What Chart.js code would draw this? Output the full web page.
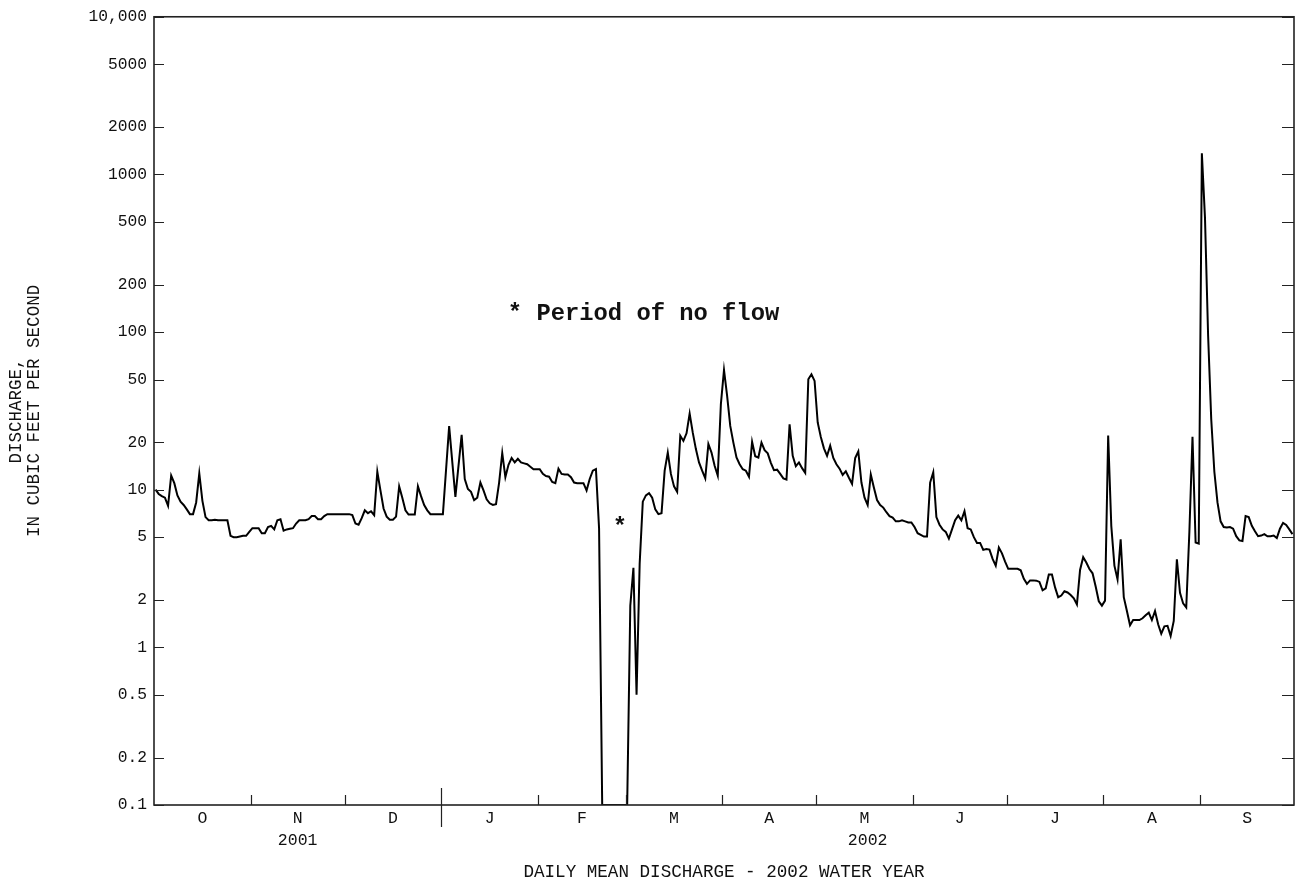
<!DOCTYPE html>
<html><head><meta charset="utf-8">
<script src="https://cdn.jsdelivr.net/npm/chart.js@4.4.1/dist/chart.umd.min.js"></script>
<style>html,body{margin:0;padding:0;background:#fff;} #wrap{width:1296px;height:884px;position:relative;}</style>
</head><body><div id="wrap"><canvas id="c" width="1296" height="884"></canvas></div>
<script>
// Daily mean discharge, Oct 1 2001 - Sep 30 2002 (0 = no flow)
const DISCHARGE = [
10.0, 9.4, 9.1, 8.9, 7.9, 12.3, 11.0, 9.2, 8.4, 8.0,
7.5, 7.0, 7.0, 8.3, 12.7, 8.5, 6.7, 6.4, 6.4, 6.45,
6.4, 6.4, 6.4, 6.4, 5.1, 5.0, 5.0, 5.05, 5.1, 5.1,
5.4, 5.7, 5.7, 5.7, 5.3, 5.3, 5.8, 5.9, 5.6, 6.4,
6.5, 5.5, 5.6, 5.65, 5.7, 6.1, 6.4, 6.4, 6.4, 6.5,
6.8, 6.8, 6.5, 6.5, 6.8, 7.0, 7.0, 7.0, 7.0, 7.0,
7.0, 7.0, 7.0, 6.9, 6.1, 6.0, 6.6, 7.4, 7.1, 7.3,
6.9, 13.0, 9.9, 7.6, 6.75, 6.45, 6.45, 6.75, 10.5, 8.9,
7.4, 6.95, 6.95, 6.95, 10.5, 9.1, 8.0, 7.4, 7.0, 7.0,
7.0, 7.0, 7.0, 13.3, 25.3, 15.0, 9.0, 14.2, 22.3, 11.7,
10.1, 9.7, 8.6, 8.9, 11.1, 9.9, 8.7, 8.2, 8.0, 8.1,
11.1, 17.1, 12.0, 14.4, 15.9, 14.9, 15.7, 14.9, 14.7, 14.5,
14.0, 13.5, 13.5, 13.5, 12.6, 12.2, 12.1, 11.2, 11.0, 13.6,
12.6, 12.5, 12.5, 12.0, 11.1, 11.0, 11.0, 11.0, 9.9, 11.7,
13.2, 13.5, 5.7, 0, 0, 0, 0, 0, 0, 0,
0, 0, 1.84, 3.2, 0.5, 3.4, 8.4, 9.2, 9.5, 8.9,
7.5, 7.0, 7.1, 13.2, 17.2, 12.6, 10.5, 9.7, 22.0, 20.4,
22.8, 30.4, 23.0, 18.1, 14.9, 13.2, 11.8, 19.5, 17.2, 14.2,
12.3, 34.9, 57.5, 39.4, 25.4, 19.9, 16.0, 14.5, 13.5, 13.2,
12.1, 20.1, 16.3, 16.0, 19.9, 17.8, 17.0, 14.8, 13.3, 13.4,
12.6, 11.8, 11.6, 26.0, 16.4, 14.1, 14.9, 13.7, 12.8, 50.2,
54.0, 49.0, 26.7, 21.6, 18.3, 16.4, 19.0, 15.9, 14.5, 13.6,
12.4, 13.1, 11.9, 10.9, 15.9, 17.5, 11.1, 8.9, 8.0, 12.5,
10.3, 8.6, 8.0, 7.7, 7.2, 6.8, 6.65, 6.3, 6.3, 6.4,
6.3, 6.2, 6.2, 5.8, 5.3, 5.17, 5.04, 5.04, 11.1, 12.9,
6.7, 6.0, 5.6, 5.4, 4.9, 5.6, 6.4, 6.85, 6.4, 7.3,
5.7, 5.6, 5.0, 4.6, 4.6, 4.15, 4.2, 4.17, 3.64, 3.3,
4.3, 3.95, 3.5, 3.15, 3.15, 3.15, 3.15, 3.08, 2.72, 2.53,
2.66, 2.66, 2.65, 2.6, 2.3, 2.37, 2.9, 2.9, 2.4, 2.08,
2.13, 2.27, 2.23, 2.15, 2.05, 1.87, 3.1, 3.73, 3.45, 3.14,
2.95, 2.43, 1.96, 1.84, 1.98, 22.1, 5.9, 3.3, 2.7, 4.85,
2.08, 1.70, 1.38, 1.49, 1.49, 1.49, 1.53, 1.6, 1.66, 1.49,
1.70, 1.4, 1.22, 1.36, 1.37, 1.18, 1.47, 3.62, 2.22, 1.9,
1.79, 5.39, 21.7, 4.63, 4.55, 1360, 530, 95, 28, 13,
8.3, 6.3, 5.8, 5.75, 5.8, 5.66, 5.07, 4.77, 4.73, 6.81,
6.7, 5.91, 5.45, 5.07, 5.12, 5.23, 5.07, 5.07, 5.12, 4.93,
5.66, 6.16, 5.98, 5.6, 5.23
];
const MONTH_LABELS = ['O','N','D','J','F','M','A','M','J','J','A','S'];
const MONTH_STARTS = [0,31,61,92,123,151,182,212,243,273,304,335,365];
const YEAR_LABELS = ['2001','2002'];
const YEAR_SPANS = [[0,92],[92,365]];
const Y_TICKS = [0.1,0.2,0.5,1,2,5,10,20,50,100,200,500,1000,2000,5000,10000];
const Y_MIN = 0.1, Y_MAX = 10000;
const NOTE_TEXT = '* Period of no flow';
const NOTE_AT = {day: 113.3, value: 130};
const STAR_AT = {day: 149.2, value: 5.7};
const X_TITLE = 'DAILY MEAN DISCHARGE - 2002 WATER YEAR';
const Y_TITLE = ['DISCHARGE,', 'IN CUBIC FEET PER SECOND'];

const FONT = "'Liberation Mono', 'Courier New', monospace";
const INK = '#111';

const points = DISCHARGE.map((v, i) => ({x: i + 0.5, y: v === 0 ? Y_MIN : v}));
const monthCenters = MONTH_LABELS.map((m, i) => (MONTH_STARTS[i] + MONTH_STARTS[i+1]) / 2);

const decor = {
  id: 'decor',
  afterDraw(chart) {
    const {ctx, chartArea: a, scales: {x, y}} = chart;
    ctx.save();
    ctx.strokeStyle = '#222';
    ctx.lineWidth = 1.6;
    ctx.strokeRect(a.left, a.top, a.right - a.left, a.bottom - a.top);
    ctx.lineWidth = 1.2;
    ctx.beginPath();
    Y_TICKS.forEach(v => {
      const py = Math.round(y.getPixelForValue(v)) + 0.5;
      ctx.moveTo(a.left, py); ctx.lineTo(a.left + 10, py);
      ctx.moveTo(a.right, py); ctx.lineTo(a.right - 12, py);
    });
    MONTH_STARTS.slice(1, -1).forEach(d => {
      const px = Math.round(x.getPixelForValue(d)) + 0.5;
      if (d === 92) { ctx.moveTo(px, a.bottom - 17); ctx.lineTo(px, a.bottom + 22); }
      else { ctx.moveTo(px, a.bottom); ctx.lineTo(px, a.bottom - 10); }
    });
    ctx.stroke();
    ctx.fillStyle = INK;
    ctx.font = '16.5px ' + FONT;
    ctx.textAlign = 'center';
    ctx.textBaseline = 'middle';
    YEAR_LABELS.forEach((t, i) => {
      const cx = (x.getPixelForValue(YEAR_SPANS[i][0]) + x.getPixelForValue(YEAR_SPANS[i][1])) / 2;
      ctx.fillText(t, cx, a.bottom + 36);
    });
    ctx.font = 'bold 23.8px ' + FONT;
    ctx.textAlign = 'left';
    ctx.fillText(NOTE_TEXT, x.getPixelForValue(NOTE_AT.day), y.getPixelForValue(NOTE_AT.value));
    ctx.textAlign = 'center';
    ctx.fillText('*', x.getPixelForValue(STAR_AT.day), y.getPixelForValue(STAR_AT.value));
    ctx.restore();
  }
};

new Chart(document.getElementById('c'), {
  type: 'line',
  data: {
    datasets: [{
      data: points,
      borderColor: '#000',
      borderWidth: 2,
      pointRadius: 0,
      tension: 0,
      fill: false
    }]
  },
  options: {
    responsive: false,
    animation: false,
    devicePixelRatio: 1,
    layout: {padding: {left: 0, right: 2, top: 15, bottom: 0}},
    plugins: {legend: {display: false}, tooltip: {enabled: false}},
    scales: {
      x: {
        type: 'linear', min: 0, max: 365,
        grid: {display: false, drawTicks: false},
        border: {display: false},
        afterBuildTicks: s => { s.ticks = monthCenters.map(v => ({value: v})); },
        afterFit: s => { s.height = 79; },
        ticks: {
          autoSkip: false, maxRotation: 0, padding: 4, color: INK,
          font: {family: FONT, size: 16.5},
          callback: (v, i) => MONTH_LABELS[i]
        },
        title: {display: true, text: X_TITLE, color: INK, font: {family: FONT, size: 17.6}, padding: {top: 0, bottom: 1}}
      },
      y: {
        type: 'logarithmic', min: Y_MIN, max: Y_MAX,
        grid: {display: false, drawTicks: false},
        border: {display: false},
        afterBuildTicks: s => { s.ticks = Y_TICKS.map(v => ({value: v})); },
        afterFit: s => { s.width = 154; },
        ticks: {
          autoSkip: false, padding: 7, color: INK,
          font: {family: FONT, size: 16.3},
          callback: v => v === 10000 ? '10,000' : String(v)
        },
        title: {display: true, text: Y_TITLE, color: INK, font: {family: FONT, size: 17.5, lineHeight: 1.05}, padding: {top: 7}}
      }
    }
  },
  plugins: [decor]
});
</script></body></html>
